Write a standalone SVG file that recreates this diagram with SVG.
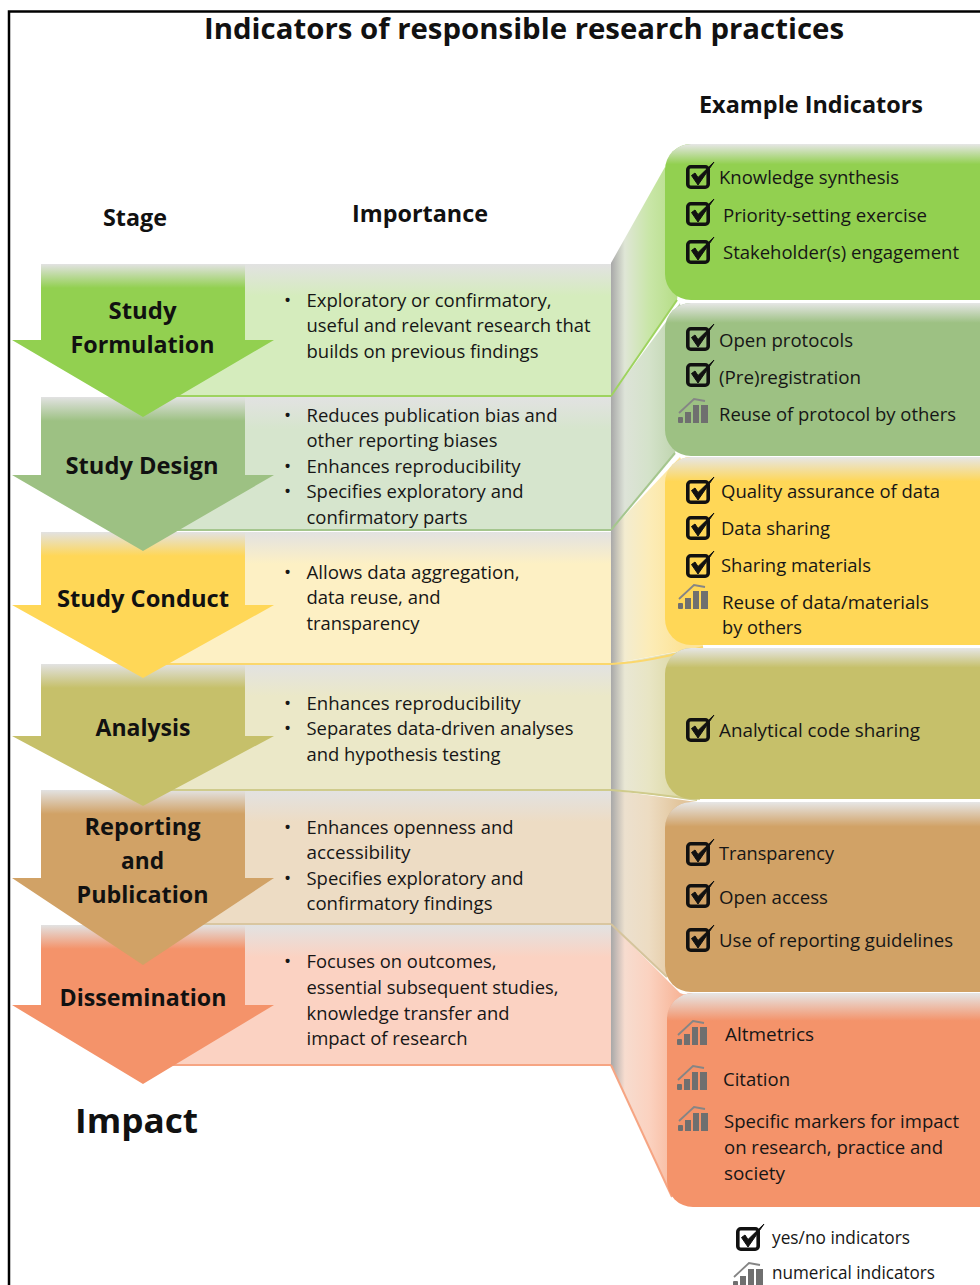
<svg xmlns="http://www.w3.org/2000/svg" width="980" height="1285" viewBox="0 0 980 1285">
<style>
text{font-family:"Open Sans","Liberation Sans",sans-serif;fill:#161616}
.t{font-size:29px;font-weight:700;fill:#111}
.h{font-size:23px;font-weight:700;fill:#111}
.s{font-size:23.5px;font-weight:700;fill:#111}
.imp{font-size:34px;font-weight:700;fill:#111}
.b{font-size:19px}
.n{font-size:19px}
.bu{font-size:19px}
.fade{fill:url(#fade)}
.pfade{fill:url(#pfade)}
</style>
<defs>
<linearGradient id="fade" x1="0" y1="0" x2="0" y2="1"><stop offset="0" stop-color="#e2e2e2"/><stop offset="1" stop-color="#e2e2e2" stop-opacity="0"/></linearGradient>
<linearGradient id="pfade" x1="0" y1="0" x2="0" y2="1"><stop offset="0" stop-color="#e6e6e6"/><stop offset=".13" stop-color="#e6e6e6" stop-opacity="0"/></linearGradient>
<linearGradient id="f1" gradientUnits="userSpaceOnUse" x1="611" y1="0" x2="680" y2="0"><stop offset="0" stop-color="#a8a8a8"/><stop offset=".2" stop-color="#dfe6d6"/><stop offset=".55" stop-color="#c9e6a8"/><stop offset="1" stop-color="#b4dd84"/></linearGradient>
<linearGradient id="f2" gradientUnits="userSpaceOnUse" x1="611" y1="0" x2="680" y2="0"><stop offset="0" stop-color="#a8a8a8"/><stop offset=".2" stop-color="#dde3d8"/><stop offset=".55" stop-color="#d4e2ca"/><stop offset="1" stop-color="#bcd3ab"/></linearGradient>
<linearGradient id="f3" gradientUnits="userSpaceOnUse" x1="611" y1="0" x2="680" y2="0"><stop offset="0" stop-color="#a8a8a8"/><stop offset=".2" stop-color="#f3ecd0"/><stop offset=".55" stop-color="#fcecb8"/><stop offset="1" stop-color="#fde49a"/></linearGradient>
<linearGradient id="f4" gradientUnits="userSpaceOnUse" x1="611" y1="0" x2="680" y2="0"><stop offset="0" stop-color="#a8a8a8"/><stop offset=".2" stop-color="#e9e7d4"/><stop offset=".55" stop-color="#e8e5c4"/><stop offset="1" stop-color="#dcd8a4"/></linearGradient>
<linearGradient id="f5" gradientUnits="userSpaceOnUse" x1="611" y1="0" x2="680" y2="0"><stop offset="0" stop-color="#a8a8a8"/><stop offset=".2" stop-color="#ece0ce"/><stop offset=".55" stop-color="#eddcc2"/><stop offset="1" stop-color="#e2c59c"/></linearGradient>
<linearGradient id="f6" gradientUnits="userSpaceOnUse" x1="611" y1="0" x2="680" y2="0"><stop offset="0" stop-color="#a8a8a8"/><stop offset=".2" stop-color="#f7dccf"/><stop offset=".55" stop-color="#fbd2c0"/><stop offset="1" stop-color="#f7b598"/></linearGradient>
<g id="chk"><rect x="1.800" y="1.800" width="20.400" height="20.400" rx="3" fill="none" stroke="#111" stroke-width="3.600"/><path d="M5.500 10.500L12 20L28 -3L12 12.500L9 8Z" fill="#111" stroke="#111" stroke-width="1"/></g>
<g id="bars" fill="#6f6f6f"><rect x="0" y="19" width="5" height="6" rx="1"/><rect x="7" y="14" width="6" height="11"/><rect x="15" y="7" width="6" height="18"/><rect x="23" y="7" width="7" height="18"/><path d="M1 15L16 1L27 3" fill="none" stroke="#858585" stroke-width="1.800"/></g>
</defs>
<rect x="0" y="0" width="980" height="1285" fill="#fff"/>
<path d="M9 1285V11.500H980" fill="none" stroke="#000" stroke-width="2.500"/>
<text class="t" x="204" y="39" textLength="640" lengthAdjust="spacingAndGlyphs">Indicators of responsible research practices</text>
<text class="h" x="699" y="113" textLength="224" lengthAdjust="spacingAndGlyphs">Example Indicators</text>
<text class="h" x="103" y="226" textLength="64" lengthAdjust="spacingAndGlyphs">Stage</text>
<text class="h" x="352" y="222" textLength="136" lengthAdjust="spacingAndGlyphs">Importance</text>

<g id="connectors">
<path d="M611 924L680 993L700 1000L672 1197L611 1065Z" fill="url(#f6)"/>
<path d="M611 1065L672 1197" fill="none" stroke="#f6a583" stroke-width="2"/>
<path d="M611 790L697 802L700 900L667 977L611 924Z" fill="url(#f5)"/>
<path d="M611 924L667 977" fill="none" stroke="#d5c49c" stroke-width="2"/>
<path d="M611 664L700 648L700 800L697 800L611 790Z" fill="url(#f4)"/>
<path d="M611 790Q650 793 697 800" fill="none" stroke="#cfcb8c" stroke-width="2"/>
<path d="M611 530L680 457L700 500L703 647L611 664Z" fill="url(#f3)"/>
<path d="M611 664Q650 662 703 647" fill="none" stroke="#fbd76c" stroke-width="2"/>
<path d="M611 396L680 303L690 400L675 453L611 530Z" fill="url(#f2)"/>
<path d="M611 530L675 453" fill="none" stroke="#a5c68e" stroke-width="2"/>
<path d="M611 263L665 167L690 200L677 300L611 396Z" fill="url(#f1)"/>
<path d="M611 396L677 300" fill="none" stroke="#9ed35f" stroke-width="2"/>
</g>

<g id="importance-6"><path d="M245 925H611V1065H143V1005H245Z" fill="#fbd2c2"/><rect class="fade" x="245" y="925" width="366" height="32"/><path d="M143 1065H611" stroke="#f6a583" stroke-width="2" fill="none"/>
<text class="bu" x="284" y="968">•</text><text class="b" x="306.500" y="967.500" textLength="190" lengthAdjust="spacingAndGlyphs">Focuses on outcomes,</text><text class="b" x="306.500" y="993.500" textLength="252" lengthAdjust="spacingAndGlyphs">essential subsequent studies,</text><text class="b" x="306.500" y="1019.500" textLength="203" lengthAdjust="spacingAndGlyphs">knowledge transfer and</text><text class="b" x="306.500" y="1045" textLength="161" lengthAdjust="spacingAndGlyphs">impact of research</text></g>
<g id="stage-6"><path d="M41 925H245V1005H274L143 1084L12 1005H41Z" fill="#f4936a"/><rect class="fade" x="41" y="925" width="204" height="24"/><text class="s" x="59.500" y="1006" textLength="167" lengthAdjust="spacingAndGlyphs">Dissemination</text></g>

<g id="importance-5"><path d="M245 790H611V924H143V878H245Z" fill="#eddcc4"/><rect class="fade" x="245" y="790" width="366" height="32"/><path d="M143 924H611" stroke="#d9c6a0" stroke-width="2" fill="none"/>
<text class="bu" x="284" y="834">•</text><text class="b" x="306.500" y="833.500" textLength="207" lengthAdjust="spacingAndGlyphs">Enhances openness and</text><text class="b" x="306.500" y="858.500" textLength="104" lengthAdjust="spacingAndGlyphs">accessibility</text><text class="bu" x="284" y="885">•</text><text class="b" x="306.500" y="884.500" textLength="217" lengthAdjust="spacingAndGlyphs">Specifies exploratory and</text><text class="b" x="306.500" y="910" textLength="186" lengthAdjust="spacingAndGlyphs">confirmatory findings</text></g>
<g id="stage-5"><path d="M41 790H245V878H274L143 965L12 878H41Z" fill="#d1a266"/><rect class="fade" x="41" y="790" width="204" height="24"/><text class="s" x="84.500" y="835" textLength="116" lengthAdjust="spacingAndGlyphs">Reporting</text><text class="s" x="121" y="869" textLength="43" lengthAdjust="spacingAndGlyphs">and</text><text class="s" x="76.500" y="903" textLength="132" lengthAdjust="spacingAndGlyphs">Publication</text></g>

<g id="importance-4"><path d="M245 664H611V790H143V736H245Z" fill="#ebe8c8"/><rect class="fade" x="245" y="664" width="366" height="32"/><path d="M143 790H611" stroke="#cfcb8c" stroke-width="2" fill="none"/>
<text class="bu" x="284" y="710">•</text><text class="b" x="306.500" y="709.500" textLength="214" lengthAdjust="spacingAndGlyphs">Enhances reproducibility</text><text class="bu" x="284" y="735">•</text><text class="b" x="306.500" y="735" textLength="267" lengthAdjust="spacingAndGlyphs">Separates data-driven analyses</text><text class="b" x="306.500" y="760.500" textLength="194" lengthAdjust="spacingAndGlyphs">and hypothesis testing</text></g>
<g id="stage-4"><path d="M41 664H245V736H274L143 806L12 736H41Z" fill="#c6c06a"/><rect class="fade" x="41" y="664" width="204" height="24"/><text class="s" x="95.500" y="736" textLength="95" lengthAdjust="spacingAndGlyphs">Analysis</text></g>

<g id="importance-3"><path d="M245 532H611V664H143V605H245Z" fill="#fdf0c4"/><rect class="fade" x="245" y="532" width="366" height="32"/><path d="M143 664H611" stroke="#fbd76c" stroke-width="2" fill="none"/>
<text class="bu" x="284" y="579">•</text><text class="b" x="306.500" y="578.500" textLength="213" lengthAdjust="spacingAndGlyphs">Allows data aggregation,</text><text class="b" x="306.500" y="604" textLength="134" lengthAdjust="spacingAndGlyphs">data reuse, and</text><text class="b" x="306.500" y="630" textLength="113" lengthAdjust="spacingAndGlyphs">transparency</text></g>
<g id="stage-3"><path d="M41 532H245V605H274L143 678L12 605H41Z" fill="#ffd757"/><rect class="fade" x="41" y="532" width="204" height="24"/><text class="s" x="57" y="607" textLength="172" lengthAdjust="spacingAndGlyphs">Study Conduct</text></g>

<g id="importance-2"><path d="M245 397H611V530H143V475H245Z" fill="#d6e5cd"/><rect class="fade" x="245" y="397" width="366" height="32"/><path d="M143 530H611" stroke="#a5c68e" stroke-width="2" fill="none"/>
<text class="bu" x="284" y="422">•</text><text class="b" x="306.500" y="421.500" textLength="251" lengthAdjust="spacingAndGlyphs">Reduces publication bias and</text><text class="b" x="306.500" y="447" textLength="191" lengthAdjust="spacingAndGlyphs">other reporting biases</text><text class="bu" x="284" y="473">•</text><text class="b" x="306.500" y="472.500" textLength="214" lengthAdjust="spacingAndGlyphs">Enhances reproducibility</text><text class="bu" x="284" y="498">•</text><text class="b" x="306.500" y="498" textLength="217" lengthAdjust="spacingAndGlyphs">Specifies exploratory and</text><text class="b" x="306.500" y="524" textLength="161" lengthAdjust="spacingAndGlyphs">confirmatory parts</text></g>
<g id="stage-2"><path d="M41 397H245V475H274L143 551L12 475H41Z" fill="#9dc183"/><rect class="fade" x="41" y="397" width="204" height="24"/><text class="s" x="65.500" y="474" textLength="153" lengthAdjust="spacingAndGlyphs">Study Design</text></g>

<g id="importance-1"><path d="M245 264H611V396H143V340H245Z" fill="#d5ecbd"/><rect class="fade" x="245" y="264" width="366" height="32"/><path d="M143 396H611" stroke="#9ed35f" stroke-width="2" fill="none"/>
<text class="bu" x="284" y="307">•</text><text class="b" x="306.500" y="306.500" textLength="245" lengthAdjust="spacingAndGlyphs">Exploratory or confirmatory,</text><text class="b" x="306.500" y="332" textLength="284" lengthAdjust="spacingAndGlyphs">useful and relevant research that</text><text class="b" x="306.500" y="357.500" textLength="232" lengthAdjust="spacingAndGlyphs">builds on previous findings</text></g>
<g id="stage-1"><path d="M41 264H245V340H274L143 417L12 340H41Z" fill="#92d050"/><rect class="fade" x="41" y="264" width="204" height="24"/><text class="s" x="108.500" y="319" textLength="68" lengthAdjust="spacingAndGlyphs">Study</text><text class="s" x="70.500" y="353" textLength="144" lengthAdjust="spacingAndGlyphs">Formulation</text></g>

<g id="indicators-1"><rect x="665" y="144" width="345" height="156" rx="26" fill="#92d050"/><rect class="pfade" x="665" y="144" width="345" height="156" rx="26"/>
<use href="#chk" x="686" y="165"/><text class="n" x="719" y="184" textLength="180" lengthAdjust="spacingAndGlyphs">Knowledge synthesis</text>
<use href="#chk" x="686" y="202"/><text class="n" x="723" y="222" textLength="204" lengthAdjust="spacingAndGlyphs">Priority-setting exercise</text>
<use href="#chk" x="686" y="240"/><text class="n" x="723" y="259" textLength="236" lengthAdjust="spacingAndGlyphs">Stakeholder(s) engagement</text></g>

<g id="indicators-2"><rect x="665" y="303" width="345" height="153" rx="26" fill="#9dc183"/><rect class="pfade" x="665" y="303" width="345" height="153" rx="26"/>
<use href="#chk" x="686" y="327"/><text class="n" x="719" y="347" textLength="134" lengthAdjust="spacingAndGlyphs">Open protocols</text>
<use href="#chk" x="686" y="363"/><text class="n" x="719" y="384" textLength="142" lengthAdjust="spacingAndGlyphs">(Pre)registration</text>
<use href="#bars" x="678" y="398"/><text class="n" x="719" y="421" textLength="237" lengthAdjust="spacingAndGlyphs">Reuse of protocol by others</text></g>

<g id="indicators-3"><rect x="665" y="457" width="345" height="188" rx="26" fill="#ffd757"/><rect class="pfade" x="665" y="457" width="345" height="188" rx="26"/>
<use href="#chk" x="686" y="480"/><text class="n" x="721" y="498" textLength="219" lengthAdjust="spacingAndGlyphs">Quality assurance of data</text>
<use href="#chk" x="686" y="516"/><text class="n" x="721" y="535" textLength="109" lengthAdjust="spacingAndGlyphs">Data sharing</text>
<use href="#chk" x="686" y="554"/><text class="n" x="721" y="572" textLength="150" lengthAdjust="spacingAndGlyphs">Sharing materials</text>
<use href="#bars" x="678" y="584"/><text class="n" x="722" y="609" textLength="207" lengthAdjust="spacingAndGlyphs">Reuse of data/materials</text><text class="n" x="722" y="634" textLength="80" lengthAdjust="spacingAndGlyphs">by others</text></g>

<g id="indicators-4"><rect x="665" y="648" width="345" height="151" rx="26" fill="#c6c06a"/><rect class="pfade" x="665" y="648" width="345" height="151" rx="26"/>
<use href="#chk" x="686" y="718"/><text class="n" x="719" y="737" textLength="201" lengthAdjust="spacingAndGlyphs">Analytical code sharing</text></g>

<g id="indicators-5"><rect x="665" y="802" width="345" height="190" rx="26" fill="#d1a266"/><rect class="pfade" x="665" y="802" width="345" height="190" rx="26"/>
<use href="#chk" x="686" y="842"/><text class="n" x="719" y="860" textLength="115" lengthAdjust="spacingAndGlyphs">Transparency</text>
<use href="#chk" x="686" y="884"/><text class="n" x="719" y="904" textLength="109" lengthAdjust="spacingAndGlyphs">Open access</text>
<use href="#chk" x="686" y="928"/><text class="n" x="719" y="947" textLength="234" lengthAdjust="spacingAndGlyphs">Use of reporting guidelines</text></g>

<g id="indicators-6"><rect x="667" y="993" width="345" height="214" rx="26" fill="#f4936a"/><rect class="pfade" x="667" y="993" width="345" height="214" rx="26"/>
<use href="#bars" x="677" y="1020"/><text class="n" x="725" y="1041" textLength="89" lengthAdjust="spacingAndGlyphs">Altmetrics</text>
<use href="#bars" x="677" y="1065"/><text class="n" x="723" y="1086" textLength="67" lengthAdjust="spacingAndGlyphs">Citation</text>
<use href="#bars" x="678" y="1106"/><text class="n" x="724" y="1128" textLength="235" lengthAdjust="spacingAndGlyphs">Specific markers for impact</text><text class="n" x="724" y="1154" textLength="219" lengthAdjust="spacingAndGlyphs">on research, practice and</text><text class="n" x="724" y="1180" textLength="61" lengthAdjust="spacingAndGlyphs">society</text></g>

<g id="impact"><text class="imp" x="75" y="1133" textLength="123" lengthAdjust="spacingAndGlyphs">Impact</text></g>
<g id="legend"><use href="#chk" x="736" y="1227"/><text class="n" x="772" y="1244" textLength="138" lengthAdjust="spacingAndGlyphs">yes/no indicators</text><use href="#bars" x="733" y="1262"/><text class="n" x="772" y="1279" textLength="163" lengthAdjust="spacingAndGlyphs">numerical indicators</text></g>
</svg>
